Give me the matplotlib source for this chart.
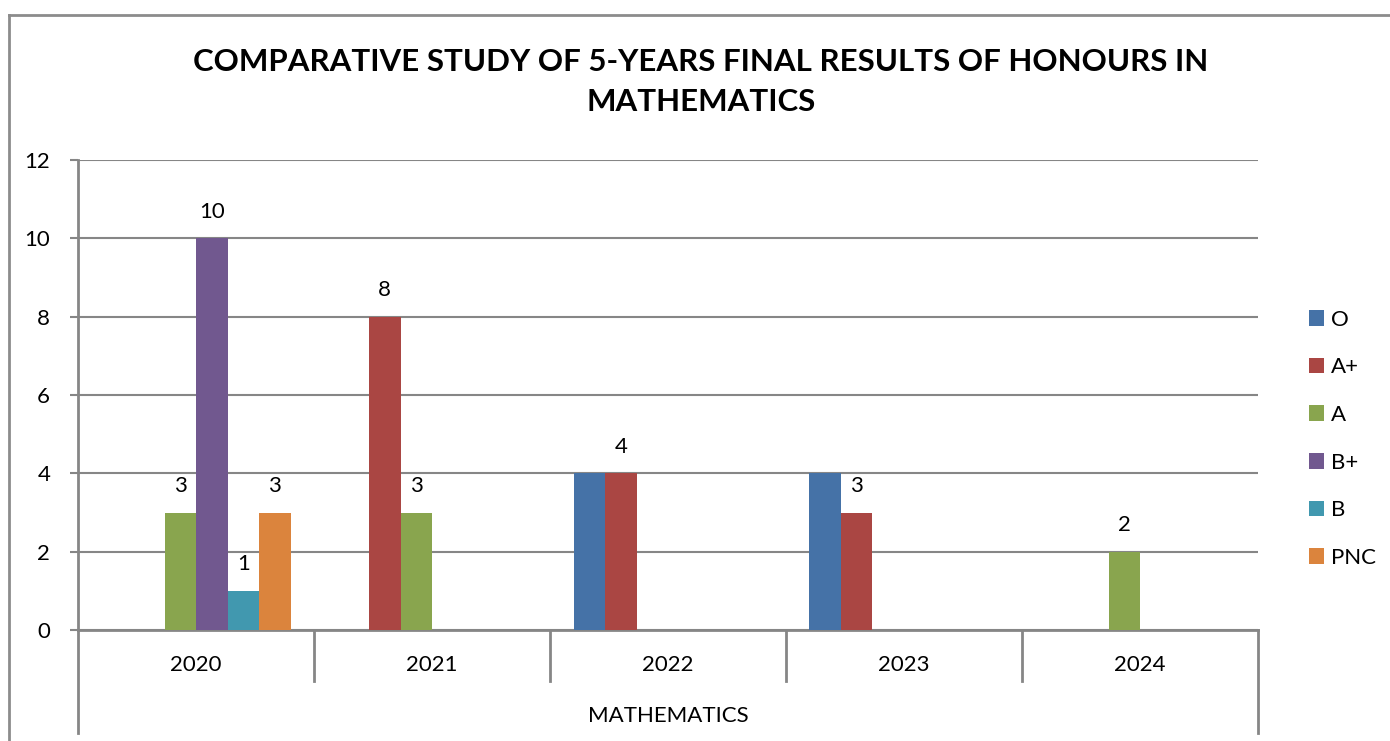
import numpy as np
import matplotlib.pyplot as plt
from matplotlib.lines import Line2D
from matplotlib.patches import Patch

plt.rcParams['font.family'] = ['Lato', 'DejaVu Sans']

# data
years = ['2020', '2021', '2022', '2023', '2024']
grades = ['O', 'A+', 'A', 'B+', 'B', 'PNC']
O = [0, 0, 4, 4, 0]
A_plus = [0, 8, 4, 3, 0]
A = [3, 3, 0, 0, 2]
B_plus = [10, 0, 0, 0, 0]
B = [1, 0, 0, 0, 0]
PNC = [3, 0, 0, 0, 0]
series = [O, A_plus, A, B_plus, B, PNC]
# the O labels are not shown in the original
show_label = [False, True, True, True, True, True]
colors = ['#4572A7', '#AA4643', '#89A54E', '#71588F', '#4198AF', '#DB843D']
yticks = [0, 2, 4, 6, 8, 10, 12]
outer_label = 'MATHEMATICS'
title = 'COMPARATIVE STUDY OF 5-YEARS FINAL RESULTS OF HONOURS IN\nMATHEMATICS'

W, H = 1390, 741
fig = plt.figure(figsize=(W / 100, H / 100), dpi=100)
ax = fig.add_axes([78 / W, (H - 630) / H, 1180 / W, 470 / H])

x = np.arange(len(years))
bw = 31.5 / 236
grey = '#868686'
fs = 16

for i, vals in enumerate(series):
    pos = x + (i - 2.5) * bw
    ax.bar(pos, vals, bw, color=colors[i], align='center', zorder=3)
    if show_label[i]:
        for p, v in zip(pos, vals):
            if v > 0:
                ax.annotate(str(v), (p, v), xytext=(0, 12), textcoords='offset points',
                            ha='center', va='bottom', fontsize=fs)

ax.set_xlim(-0.5, len(years) - 0.5)
ax.set_ylim(0, 12)
ax.set_yticks(yticks)
ax.set_yticklabels([str(t) for t in yticks], fontsize=fs)
ax.tick_params(axis='y', length=6, width=1.5, color=grey, pad=14)
ax.set_xticks([])
ax.yaxis.grid(True, color=grey, linewidth=1.5, zorder=0)
for s in ['top', 'right']:
    ax.spines[s].set_visible(False)
for s in ['left', 'bottom']:
    ax.spines[s].set_color(grey)
    ax.spines[s].set_linewidth(2)

# multi-level category axis
trans = ax.get_xaxis_transform()
px = 1 / 470
for b in np.arange(0.5, len(years) - 0.5):
    ax.plot([b, b], [0, -51 * px], color=grey, lw=2, transform=trans, clip_on=False)
ax.plot([-0.5, -0.5], [0, -103 * px], color=grey, lw=2, transform=trans, clip_on=False)
ax.plot([len(years) - 0.5] * 2, [0, -103 * px], color=grey, lw=2, transform=trans, clip_on=False)
for xi, yr in zip(x, years):
    ax.text(xi, -35 * px, yr, transform=trans, ha='center', va='center', fontsize=fs)
ax.text(np.mean(x), -86 * px, outer_label, transform=trans, ha='center', va='center', fontsize=fs)

# outer chart border
fig.add_artist(Line2D([9 / W, 1], [1 - 15 / H, 1 - 15 / H], color='#8c8c8c', lw=2))
fig.add_artist(Line2D([9 / W, 9 / W], [0, 1 - 15 / H], color='#8c8c8c', lw=2))

fig.text(701 / W, 1 - 82 / H, title, ha='center', va='center', fontsize=22.5,
         fontweight='bold', linespacing=1.5)

handles = [Patch(facecolor=c, edgecolor='none') for c in colors]
fig.legend(handles, grades, loc='upper left', bbox_to_anchor=(1300 / W, 1 - 301 / H),
           frameon=False, fontsize=fs, handlelength=0.7, handleheight=0.7,
           handletextpad=0.3, labelspacing=1.24, borderaxespad=0)

fig.savefig('out.png', dpi=100)
